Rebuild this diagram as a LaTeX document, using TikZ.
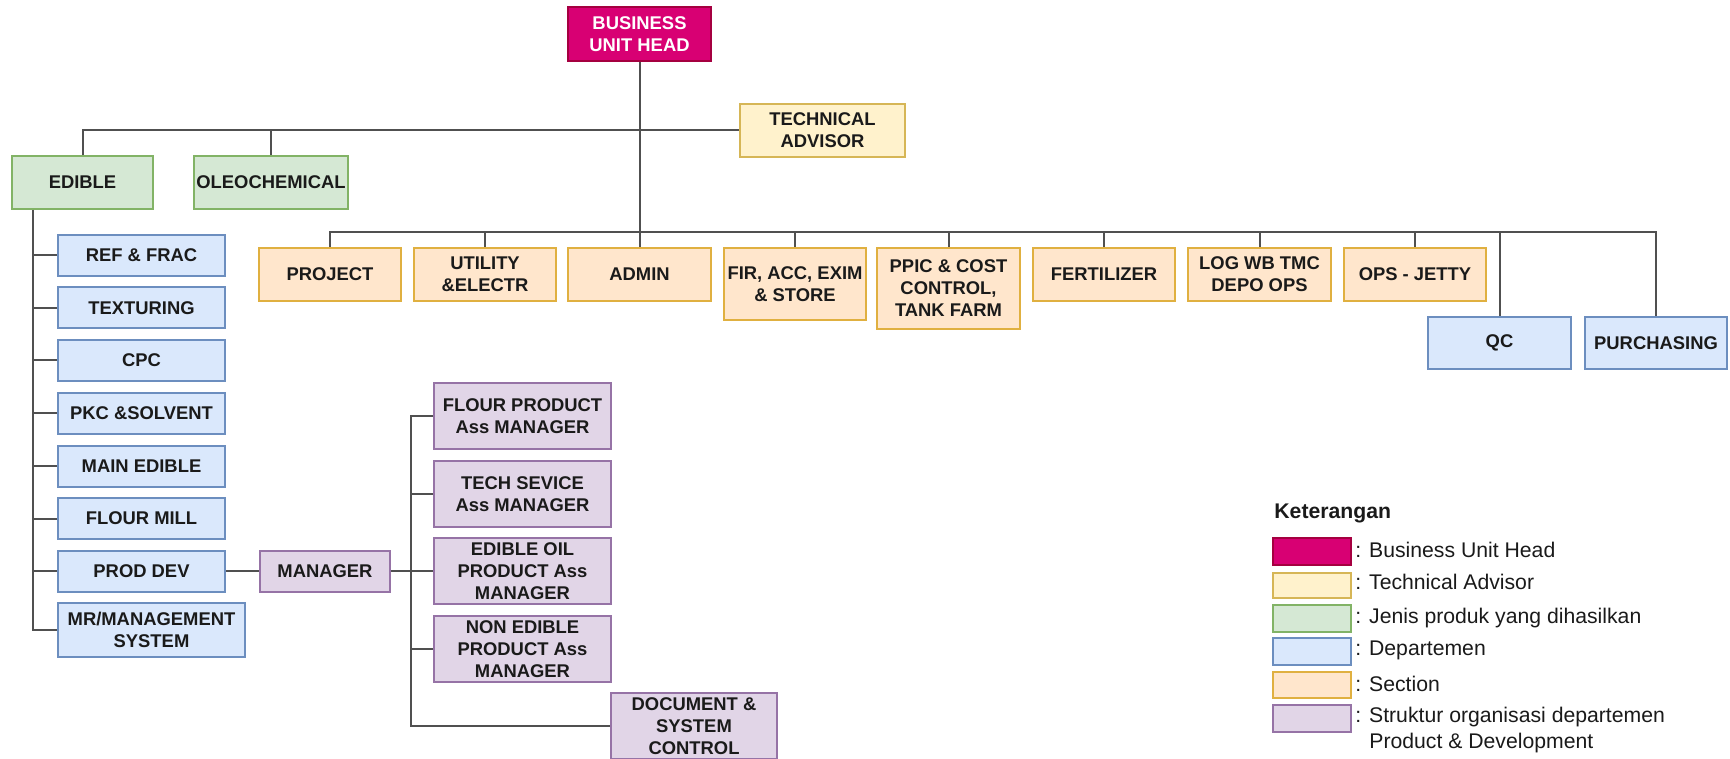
\documentclass[tikz,border=0pt]{standalone}
\usepackage{fontspec}
\setmainfont{Liberation Sans}
\definecolor{buhF}{HTML}{D80073}\definecolor{buhD}{HTML}{A50040}
\definecolor{taF}{HTML}{FFF2CC}\definecolor{taD}{HTML}{D6B656}
\definecolor{grF}{HTML}{D5E8D4}\definecolor{grD}{HTML}{82B366}
\definecolor{blF}{HTML}{DAE8FC}\definecolor{blD}{HTML}{6C8EBF}
\definecolor{orF}{HTML}{FFE6CC}\definecolor{orD}{HTML}{E0B040}
\definecolor{puF}{HTML}{E1D5E7}\definecolor{puD}{HTML}{9673A6}
\definecolor{lineC}{HTML}{505050}
\definecolor{txt}{HTML}{1A1A1A}
\tikzset{
  box/.style={rectangle, draw, line width=1pt, inner sep=0pt, align=center,
    text=txt, font=\bfseries\fontsize{9.2}{11}\selectfont},
  buhbox/.style={box, fill=buhF, draw=buhD, text=white},
  tabox/.style={box, fill=taF, draw=taD},
  grbox/.style={box, fill=grF, draw=grD},
  blbox/.style={box, fill=blF, draw=blD},
  orbox/.style={box, fill=orF, draw=orD},
  pubox/.style={box, fill=puF, draw=puD},
  sz/.style 2 args={minimum width=#1*0.5pt, minimum height=#2*0.5pt},
  conn/.style={draw=lineC, line width=1pt},
  legtxt/.style={anchor=west, inner sep=0pt, text=txt, font=\fontsize{10.6}{13}\selectfont, align=left},
}
\begin{document}
\begin{tikzpicture}[x=0.5pt, y=-0.5pt]
\useasboundingbox (0,0) rectangle (1730,759);
% top
\node[buhbox, sz={143}{54}] (buh) at (639.5,34) {BUSINESS\\UNIT HEAD};
\node[tabox, sz={165}{53}] (ta) at (822.5,130.5) {TECHNICAL\\ADVISOR};
\node[grbox, sz={141}{53}] (edible) at (82.5,182.5) {EDIBLE};
\node[grbox, sz={154}{53}] (oleo) at (271,182.5) {OLEOCHEMICAL};
% sections
\node[orbox, sz={142}{53}] (project) at (330,274.5) {PROJECT};
\node[orbox, sz={142}{53}] (utility) at (485,274.5) {UTILITY\\\&ELECTR};
\node[orbox, sz={143}{53}] (admin) at (639.5,274.5) {ADMIN};
\node[orbox, sz={142}{72}] (fir) at (795,284) {FIR, ACC, EXIM\\\& STORE};
\node[orbox, sz={143}{81}] (ppic) at (948.5,288.5) {PPIC \& COST\\CONTROL,\\TANK FARM};
\node[orbox, sz={142}{53}] (fert) at (1104,274.5) {FERTILIZER};
\node[orbox, sz={143}{53}] (log) at (1259.5,274.5) {LOG WB TMC\\DEPO OPS};
\node[orbox, sz={142}{53}] (ops) at (1415,274.5) {OPS - JETTY};
\node[blbox, sz={143}{52}] (qc) at (1499.5,343) {QC};
\node[blbox, sz={142}{52}] (purch) at (1656,343) {PURCHASING};
% departments
\node[blbox, sz={167}{41}] (ref) at (141.5,255.5) {REF \& FRAC};
\node[blbox, sz={167}{41}] (tex) at (141.5,308) {TEXTURING};
\node[blbox, sz={167}{41}] (cpc) at (141.5,360.5) {CPC};
\node[blbox, sz={167}{41}] (pkc) at (141.5,413) {PKC \&SOLVENT};
\node[blbox, sz={167}{41}] (main) at (141.5,466) {MAIN EDIBLE};
\node[blbox, sz={167}{41}] (flour) at (141.5,518.5) {FLOUR MILL};
\node[blbox, sz={167}{41}] (prod) at (141.5,571) {PROD DEV};
\node[blbox, sz={187}{54}] (mr) at (151.5,630) {MR/MANAGEMENT\\SYSTEM};
% product development
\node[pubox, sz={130}{41}] (mgr) at (325,571) {MANAGER};
\node[pubox, sz={177}{66}] (fp) at (522.5,416) {FLOUR PRODUCT\\Ass MANAGER};
\node[pubox, sz={177}{66}] (ts) at (522.5,494) {TECH SEVICE\\Ass MANAGER};
\node[pubox, sz={177}{66}] (eo) at (522.5,571) {EDIBLE OIL\\PRODUCT Ass\\MANAGER};
\node[pubox, sz={177}{66}] (ne) at (522.5,649) {NON EDIBLE\\PRODUCT Ass\\MANAGER};
\node[pubox, sz={166}{66}] (doc) at (694,726) {DOCUMENT \&\\SYSTEM\\CONTROL};
% helper coordinates
\coordinate (bus1) at (0,130);
\coordinate (bus2) at (0,232);
\coordinate (et) at (33,0);
\coordinate (mt) at (411,0);
% connectors
\draw[conn] (buh.south) -- (admin.north);
\draw[conn] (edible.north) |- (ta.west);
\draw[conn] (oleo.north) -- (oleo.north |- bus1);
\draw[conn] (project.north) -- (project.north |- bus2) -- (purch.north |- bus2) -- (purch.north);
\foreach \n in {utility,fir,ppic,fert,log,ops,qc}
  \draw[conn] (\n.north) -- (\n.north |- bus2);
\draw[conn] (edible.south -| et) |- (mr.west);
\foreach \n in {ref,tex,cpc,pkc,main,flour,prod}
  \draw[conn] (\n.west) -- (\n.west -| et);
\draw[conn] (prod.east) -- (mgr.west);
\draw[conn] (fp.west) -- (fp.west -| mt) -- (doc.west -| mt) -- (doc.west);
\draw[conn] (mgr.east) -- (mgr.east -| mt);
\foreach \n in {ts,eo,ne}
  \draw[conn] (\n.west) -- (\n.west -| mt);
% legend
\node[anchor=west, inner sep=0pt, text=txt, font=\bfseries\fontsize{10.6}{13}\selectfont] (ket) at (1274,513) {Keterangan};
\node[box, fill=buhF, draw=buhD, sz={78}{27}] (l1) at (1312,551.5) {};
\node[box, fill=taF, draw=taD, sz={78}{25}] (l2) at (1312,585.5) {};
\node[box, fill=grF, draw=grD, sz={78}{27}] (l3) at (1312,618.5) {};
\node[box, fill=blF, draw=blD, sz={78}{27}] (l4) at (1312,651.5) {};
\node[box, fill=orF, draw=orD, sz={78}{26}] (l5) at (1312,685) {};
\node[box, fill=puF, draw=puD, sz={78}{27}] (l6) at (1312,718.5) {};
\node[legtxt] (t1) at (1355,550) {: Business Unit Head};
\node[legtxt] (t2) at (1355,582) {: Technical Advisor};
\node[legtxt] (t3) at (1355,618) {: Jenis produk yang dihasilkan};
\node[legtxt] (t4) at (1355,650) {: Departemen};
\node[legtxt] (t5) at (1355,684) {: Section};
\node[legtxt] (t6) at (1355,717) {: Struktur organisasi departemen};
\node[legtxt] (t7) at (1369,743) {Product \& Development};
\end{tikzpicture}
\end{document}
